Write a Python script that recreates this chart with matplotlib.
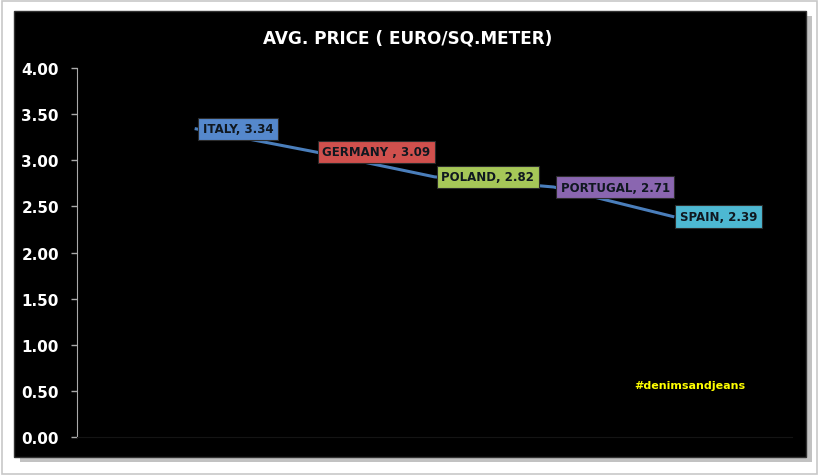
import matplotlib.pyplot as plt
from matplotlib.patches import Rectangle

# chart data
countries = ["ITALY", "GERMANY ", "POLAND", "PORTUGAL", "SPAIN"]
prices = [3.34, 3.09, 2.82, 2.71, 2.39]
box_colors = ["#5588CC", "#D0504D", "#A6C758", "#8A66B0", "#4DB8D2"]
y_ticks = [0.0, 0.5, 1.0, 1.5, 2.0, 2.5, 3.0, 3.5, 4.0]

plt.rcParams["font.family"] = ["DejaVu Sans"]

fig = plt.figure(figsize=(8.2, 4.77), dpi=100)
fig.patch.set_facecolor("white")

# outer frame and black chart panel with a soft shadow (behind the axes)
fig.patches.append(Rectangle((0.002, 0.004), 0.994, 0.992, transform=fig.transFigure,
                             facecolor="none", edgecolor="#c8c8c8", lw=1.2, zorder=-3))
fig.patches.append(Rectangle((20 / 820, 1 - 463 / 477), 792 / 820, 446 / 477,
                             transform=fig.transFigure, facecolor="#9a9a9a",
                             edgecolor="none", alpha=0.6, zorder=-2))
fig.patches.append(Rectangle((14 / 820, 1 - 458 / 477), 792 / 820, 446 / 477,
                             transform=fig.transFigure, facecolor="black",
                             edgecolor="#333333", lw=1, zorder=-1))

ax = fig.add_axes([77 / 820, 1 - 438 / 477, 715 / 820, 369 / 477])
ax.set_facecolor("black")

x = list(range(1, len(prices) + 1))
ax.plot(x, prices, color="#4A7EBB", lw=2.2, zorder=2)

for xi, yi, name, c in zip(x, prices, countries, box_colors):
    ax.annotate(f"{name}, {yi:.2f}", (xi, yi), xytext=(5, 0), textcoords="offset points",
                ha="left", va="center", fontsize=8.5, fontweight="bold", color="#101820",
                bbox=dict(boxstyle="square,pad=0.4", fc=c, ec="#2b2b2b", lw=0.8), zorder=3)

ax.set_xlim(0, 6)
ax.set_ylim(0, 4)
ax.set_yticks(y_ticks)
ax.set_yticklabels([f"{v:.2f}" for v in y_ticks], color="white", fontsize=11,
                   fontweight="bold")
ax.set_xticks([])
ax.tick_params(axis="y", colors="#aaaaaa", length=4, width=1, pad=9, labelcolor="white")
for side in ["top", "right"]:
    ax.spines[side].set_visible(False)
ax.spines["bottom"].set_color("#141414")
ax.spines["left"].set_color("#aaaaaa")

fig.text(408 / 820, 1 - 38 / 477, "AVG. PRICE ( EURO/SQ.METER)", ha="center", va="center",
         color="white", fontsize=12.2, fontweight="bold")
fig.text(690 / 820, 1 - 386 / 477, "#denimsandjeans", ha="center", va="center",
         color="#FFFF00", fontsize=8, fontweight="bold")

fig.savefig("out.png", dpi=100, facecolor=fig.get_facecolor())
